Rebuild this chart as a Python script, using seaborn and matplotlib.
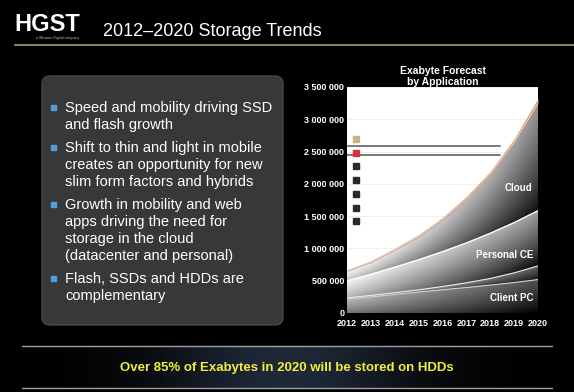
import numpy as np
import seaborn as sns
import matplotlib.pyplot as plt
from matplotlib.lines import Line2D
from matplotlib.patches import FancyBboxPatch, Rectangle

# forecast values (exabytes, in thousands) per application layer, bottom to top
years = np.arange(2012, 2021)
client_pc = np.array([215, 250, 288, 325, 360, 395, 432, 472, 518]) * 1000
other_pc = np.array([20, 22, 27, 35, 50, 73, 103, 150, 212]) * 1000
personal_ce = np.array([262, 328, 395, 465, 540, 617, 700, 778, 854]) * 1000
cloud = np.array([150, 182, 263, 355, 490, 675, 903, 1230, 1652]) * 1000
flash = np.array([10, 11, 12, 14, 16, 18, 21, 25, 30]) * 1000
other_hdd = np.array([15, 16, 18, 20, 24, 28, 34, 42, 60]) * 1000

yticks = np.arange(0, 3500001, 500000)
bullets = [
    ["Speed and mobility driving SSD", "and flash growth"],
    ["Shift to thin and light in mobile", "creates an opportunity for new",
     "slim form factors and hybrids"],
    ["Growth in mobility and web", "apps driving the need for",
     "storage in the cloud", "(datacenter and personal)"],
    ["Flash, SSDs and HDDs are", "complementary"],
]
area_labels = [("Cloud", 2019.2, 1930000), ("Personal CE", 2018.6, 900000),
               ("Client PC", 2018.9, 240000)]

sns.set_style("white")
plt.rcParams['font.family'] = ['Liberation Sans', 'DejaVu Sans']

W, H = 574, 392
fig = plt.figure(figsize=(W / 100, H / 100), dpi=100, facecolor='black')

# background layer in pixel coordinates
bg = fig.add_axes([0, 0, 1, 1], zorder=0)
bg.set_xlim(0, W)
bg.set_ylim(H, 0)
bg.axis('off')
bg.set_facecolor('black')

# bottom band glow
gx = np.linspace(-1, 1, 300)
glow = np.exp(-(gx / 0.45) ** 2)
band = np.zeros((2, 300, 4))
band[..., 0] = 0.12 * glow
band[..., 1] = 0.16 * glow
band[..., 2] = 0.22 * glow
band[..., 3] = 1
bg.imshow(band, extent=(0, W, 388, 346), aspect='auto', zorder=1)
bg.plot([22, 552], [346, 346], color='#a0a0a0', lw=1, zorder=2)
bg.plot([22, 552], [388, 388], color='#a0a0a0', lw=1, zorder=2)
bg.text(287, 368, "Over 85% of Exabytes in 2020 will be stored on HDDs",
        color='#f2ee3a', fontsize=9.5, fontweight='bold', ha='center', va='center', zorder=3)

# header
bg.text(14, 24, "HGST", color='white', fontsize=17, fontweight='bold', va='center')
bg.text(36, 37.5, "a Western Digital company", color='#bbbbbb', fontsize=2.6, va='center')
bg.text(103, 31, "2012\u20132020 Storage Trends", color='white', fontsize=13, va='center')
bg.plot([15, W], [45, 45], color='#8a8262', lw=1.5)

# bullet panel
bg.add_patch(FancyBboxPatch((42, 76), 241, 249, boxstyle="round,pad=0,rounding_size=8",
                            facecolor='#383838', edgecolor='#474747', lw=1, zorder=1))
y = 108
for para in bullets:
    bg.add_patch(Rectangle((51, y - 3), 5, 5, color='#4f9fe0', zorder=3))
    for line in para:
        bg.text(65, y, line, color='white', fontsize=10.5, va='center', zorder=3)
        y += 17
    y += 6

# chart
ax = fig.add_axes([347 / W, 1 - 313 / H, (538 - 347) / W, (313 - 87) / H], zorder=2)
ax.set_facecolor('white')
ax.set_xlim(2012, 2020)
ax.set_ylim(0, 3500000)
for s in ax.spines.values():
    s.set_visible(False)
for v in yticks[1:]:
    ax.axhline(v, color='#ececec', lw=0.6, zorder=0)
ax.axhline(2590000, xmax=0.8, color='#6e6e6e', lw=1.3, zorder=1)
ax.axhline(2440000, xmax=0.8, color='#6e6e6e', lw=1.3, zorder=1)


def shade(lo, hi, top_l, top_r, bot_l, bot_r):
    # gray fill: light along the top edge, dark along the bottom, darker to the right
    xs = np.linspace(2012, 2020, 200)
    ys = np.linspace(0, 3500000, 400)
    X, Y = np.meshgrid(xs, ys)
    lo_i = np.interp(xs, years, lo)
    hi_i = np.interp(xs, years, hi)
    s = np.clip((Y - lo_i) / np.maximum(hi_i - lo_i, 1), 0, 1)
    t = (X - 2012) / 8
    top = top_l + (top_r - top_l) * t
    bot = bot_l + (bot_r - bot_l) * t
    val = bot + (top - bot) * s ** 0.8
    poly = ax.fill_between(years, lo, hi, facecolor='none', lw=0)
    im = ax.imshow(val, extent=(2012, 2020, 0, 3500000), origin='lower', cmap='gray',
                   vmin=0, vmax=1, aspect='auto', zorder=2)
    im.set_clip_path(poly.get_paths()[0], transform=ax.transData)


b0 = np.zeros(len(years))
b1 = client_pc
b2 = b1 + other_pc
b3 = b2 + personal_ce
b4 = b3 + cloud
b5 = b4 + flash
b6 = b5 + other_hdd

shade(b0, b1, 0.72, 0.32, 0.45, 0.0)
shade(b1, b2, 0.78, 0.38, 0.55, 0.08)
shade(b2, b3, 0.96, 0.62, 0.68, 0.02)
shade(b3, b4, 0.97, 0.6, 0.75, 0.05)
ax.fill_between(years, b4, b5, color='#d2323f', lw=0, zorder=3)
ax.fill_between(years, b5, b6, color='#c9b27c', lw=0, zorder=3)

for top, c, lw in [(b1, '#d0d0d0', 0.8), (b2, '#e8e8e8', 0.8), (b3, '#ffffff', 1.0),
                   (b4, '#e0e0e0', 0.6)]:
    sns.lineplot(x=years, y=top, ax=ax, color=c, linewidth=lw, zorder=4)

for name, xx, yy in area_labels:
    ax.text(xx, yy, name, color='white', fontsize=7, fontweight='bold',
            ha='center', va='center', zorder=5)

ax.set_xticks(years)
ax.set_xticklabels([str(v) for v in years])
ax.set_yticks(yticks)
ax.set_yticklabels([f"{v:,}".replace(",", " ") for v in yticks])
ax.tick_params(axis='y', length=0, pad=2, labelsize=6.5, colors='white')
ax.tick_params(axis='x', length=0, pad=4, labelsize=6.5, colors='white')
for lab in ax.get_xticklabels() + ax.get_yticklabels():
    lab.set_fontweight('bold')

ax.text(0.5, 1.07, "Exabyte Forecast", transform=ax.transAxes, color='white',
        fontsize=7.5, fontweight='bold', ha='center', va='center', zorder=6)
ax.text(0.5, 1.02, "by Application", transform=ax.transAxes, color='white',
        fontsize=7.5, fontweight='bold', ha='center', va='center', zorder=6, clip_on=False)

handles = [Line2D([], [], marker='s', ls='', color=c, markersize=4)
           for c in ['#c9b27c', '#d2323f', '#2a2a2a', '#2a2a2a', '#2a2a2a', '#2a2a2a', '#2a2a2a']]
leg = ax.legend(handles, [' '] * 7, loc='upper left', bbox_to_anchor=(0.035, 0.78),
                frameon=False, fontsize=4, labelspacing=1.58, handlelength=1,
                handletextpad=0, borderpad=0, borderaxespad=0)
leg.set_zorder(6)

ax.set_xlabel('')
ax.set_ylabel('')
fig.savefig('out.png', dpi=100, facecolor='black')
